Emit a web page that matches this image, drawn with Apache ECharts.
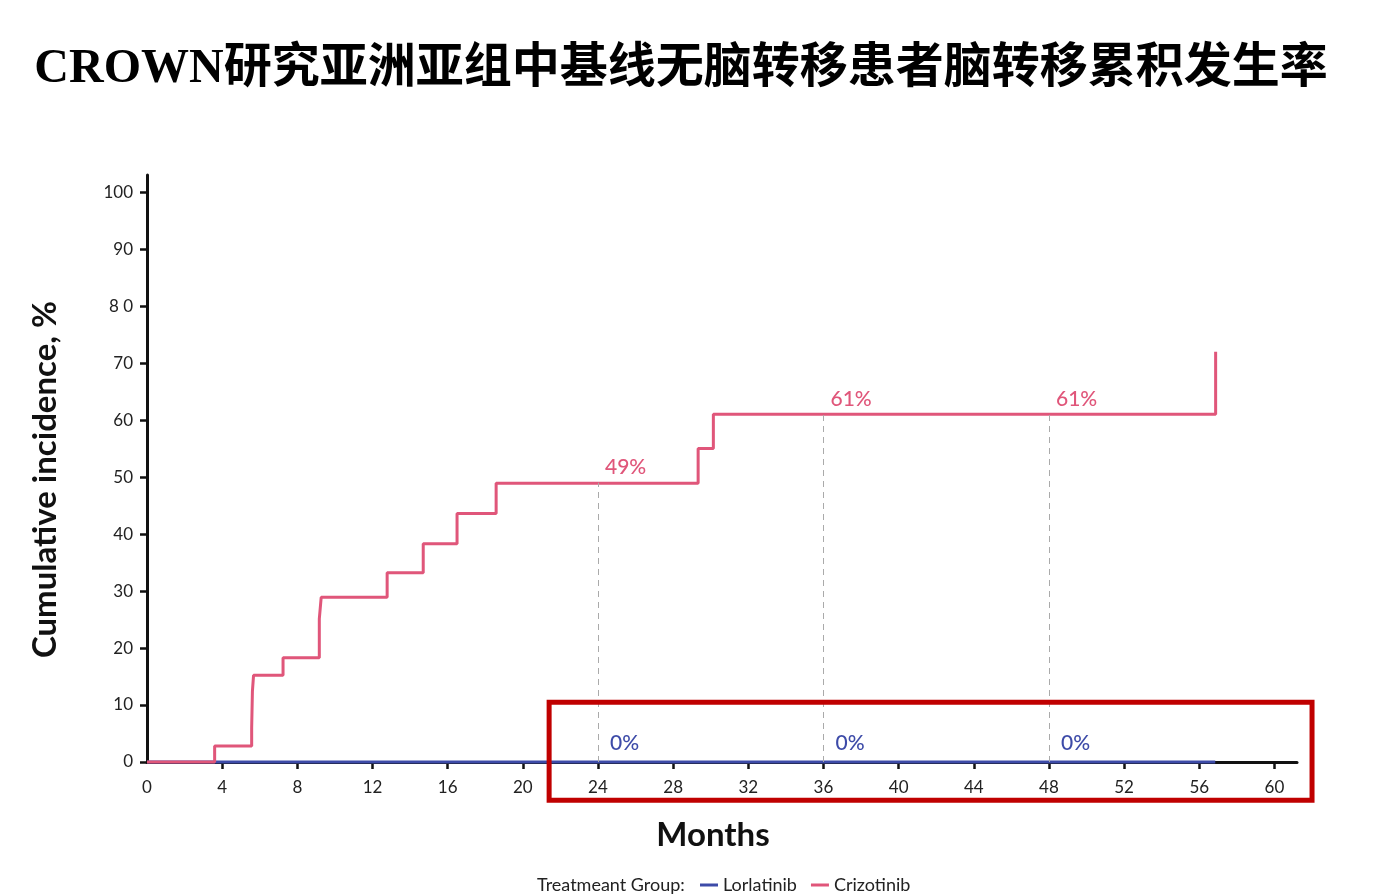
<!DOCTYPE html>
<html>
<head>
<meta charset="utf-8">
<script src="https://cdn.jsdelivr.net/npm/echarts@6/dist/echarts.min.js"></script>
<style>
html,body{margin:0;padding:0;background:#fff;}
#chart{width:1396px;height:895px;}
</style>
</head>
<body>
<div id="chart"></div>
<script>
// ---- data ----
const titleText = 'CROWN研究亚洲亚组中基线无脑转移患者脑转移累积发生率';
const seriesNames = ['Lorlatinib', 'Crizotinib'];
const legendLead = 'Treatmeant Group:';
// Crizotinib cumulative incidence step curve (month, %)
const crizotinibMonths = [0, 3.6, 5.57, 5.61, 5.67, 7.24, 9.17, 9.27, 12.78, 14.7, 16.5, 18.58, 29.33, 30.14, 56.87];
const crizotinibValues = [0, 2.8, 6.0, 12.4, 15.2, 18.3, 25.1, 28.9, 33.2, 38.3, 43.6, 48.9, 55.0, 61.0, 72.0];
// Lorlatinib: no events
const lorlatinibMonths = [0, 56.85];
const lorlatinibValues = [0, 0];
// landmark estimates
const landmarkMonths = [24, 36, 48];
const crizotinibLandmark = [49, 61, 61];
const lorlatinibLandmark = [0, 0, 0];
// tick labels
const xTicks = [0, 4, 8, 12, 16, 20, 24, 28, 32, 36, 40, 44, 48, 52, 56, 60];
const yTicks = [0, 10, 20, 30, 40, 50, 60, 70, 80, 90, 100];
const yTickLabels = ['0', '10', '20', '30', '40', '50', '60', '70', '8 0', '90', '100'];
// highlighted region (months, %)
const highlightMonths = [21.4, 62.0];
const highlightPercent = [10.5, -6.7];

// ---- build ----
const pink = '#E0567A';
const blue = '#3D4BA8';
const chart = echarts.init(document.getElementById('chart'));
const zip = (a, b) => a.map((v, i) => [v, b[i]]);

const option = {
  backgroundColor: '#fff',
  animation: false,
  grid: { left: 147, right: 99, top: 175, bottom: 133 },
  legend: {
    data: seriesNames,
    left: 700, top: 876, padding: 0,
    itemWidth: 18, itemHeight: 3, itemGap: 14,
    icon: 'rect',
    textStyle: { fontFamily: 'Lato', fontSize: 18, color: '#222' }
  },
  xAxis: {
    type: 'value', min: 0, max: 61.2,
    name: 'Months', nameLocation: 'middle', nameGap: 57,
    nameTextStyle: { fontFamily: 'Lato', fontSize: 33, fontWeight: 'bold', color: '#111', padding: [0, 18, 0, 0] },
    axisLine: { show: true, lineStyle: { color: '#111', width: 3 } },
    axisTick: { show: true, length: 7, lineStyle: { color: '#111', width: 2.5 }, customValues: xTicks.slice(1) },
    axisLabel: { fontFamily: 'Lato', fontSize: 17, color: '#222', margin: 17, customValues: xTicks },
    splitLine: { show: false }
  },
  yAxis: {
    type: 'value', min: 0, max: 103,
    name: 'Cumulative incidence, %', nameLocation: 'middle', nameGap: 85, nameRotate: 90,
    nameTextStyle: { fontFamily: 'Lato', fontSize: 33, fontWeight: 'bold', color: '#111', padding: [0, 22, 0, 0] },
    axisLine: { show: true, lineStyle: { color: '#111', width: 3 } },
    axisTick: { show: true, length: 7, lineStyle: { color: '#111', width: 2.5 }, customValues: yTicks },
    axisLabel: {
      fontFamily: 'Lato', fontSize: 17, color: '#222', margin: 14, customValues: yTicks,
      formatter: v => yTickLabels[yTicks.indexOf(v)] ?? ''
    },
    splitLine: { show: false }
  },
  series: [
    {
      name: seriesNames[0], type: 'line', step: 'end', symbol: 'none',
      data: zip(lorlatinibMonths, lorlatinibValues),
      lineStyle: { color: blue, width: 3 }, itemStyle: { color: blue },
      clip: false
    },
    {
      name: seriesNames[1], type: 'line', step: 'end', symbol: 'none',
      data: zip(crizotinibMonths, crizotinibValues),
      lineStyle: { color: pink, width: 3 }, itemStyle: { color: pink },
      clip: false, z: 3,
      markLine: {
        silent: true, symbol: 'none', animation: false,
        label: { show: false },
        lineStyle: { color: '#aaa', type: [6, 5], width: 1 },
        data: landmarkMonths.map((m, i) => [{ coord: [m, 0] }, { coord: [m, crizotinibLandmark[i]] }])
      }
    },
    {
      name: 'crizLabels', type: 'scatter', symbolSize: 0, silent: true, z: 5,
      itemStyle: { opacity: 1, color: pink },
      data: zip(landmarkMonths, crizotinibLandmark),
      label: {
        show: true, position: 'insideBottomLeft', offset: [0, 0],
        formatter: p => p.value[1] + '%',
        fontFamily: 'Lato', fontSize: 21, fontWeight: 500, color: pink, padding: [0, 0, 0, 2]
      }
    },
    {
      name: 'lorLabels', type: 'scatter', symbolSize: 0, silent: true, z: 5,
      itemStyle: { opacity: 1, color: blue },
      data: zip(landmarkMonths, lorlatinibLandmark),
      label: {
        show: true, position: 'insideBottomLeft', offset: [0, -3],
        formatter: p => p.value[1] + '%',
        fontFamily: 'Lato', fontSize: 21, fontWeight: 500, color: blue, padding: [0, 0, 0, 7]
      }
    }
  ]
};
chart.setOption(option);

const p1 = chart.convertToPixel({ gridIndex: 0 }, [highlightMonths[0], highlightPercent[0]]);
const p2 = chart.convertToPixel({ gridIndex: 0 }, [highlightMonths[1], highlightPercent[1]]);
chart.setOption({
  graphic: [
    {
      type: 'text', x: 681, y: 70, z: 10,
      style: {
        text: titleText, textAlign: 'center', textVerticalAlign: 'middle',
        font: "bold 48px 'Liberation Serif', 'Noto Sans CJK SC'", fill: '#000'
      }
    },
    {
      type: 'text', x: 537, y: 885, z: 10,
      style: {
        text: legendLead, textVerticalAlign: 'middle',
        font: "18px Lato", fill: '#222'
      }
    },
    {
      type: 'rect', z: 20, silent: true,
      shape: { x: p1[0], y: p1[1], width: p2[0] - p1[0], height: p2[1] - p1[1] },
      style: { fill: 'none', stroke: '#C00000', lineWidth: 5 }
    }
  ]
});
</script>
</body>
</html>
